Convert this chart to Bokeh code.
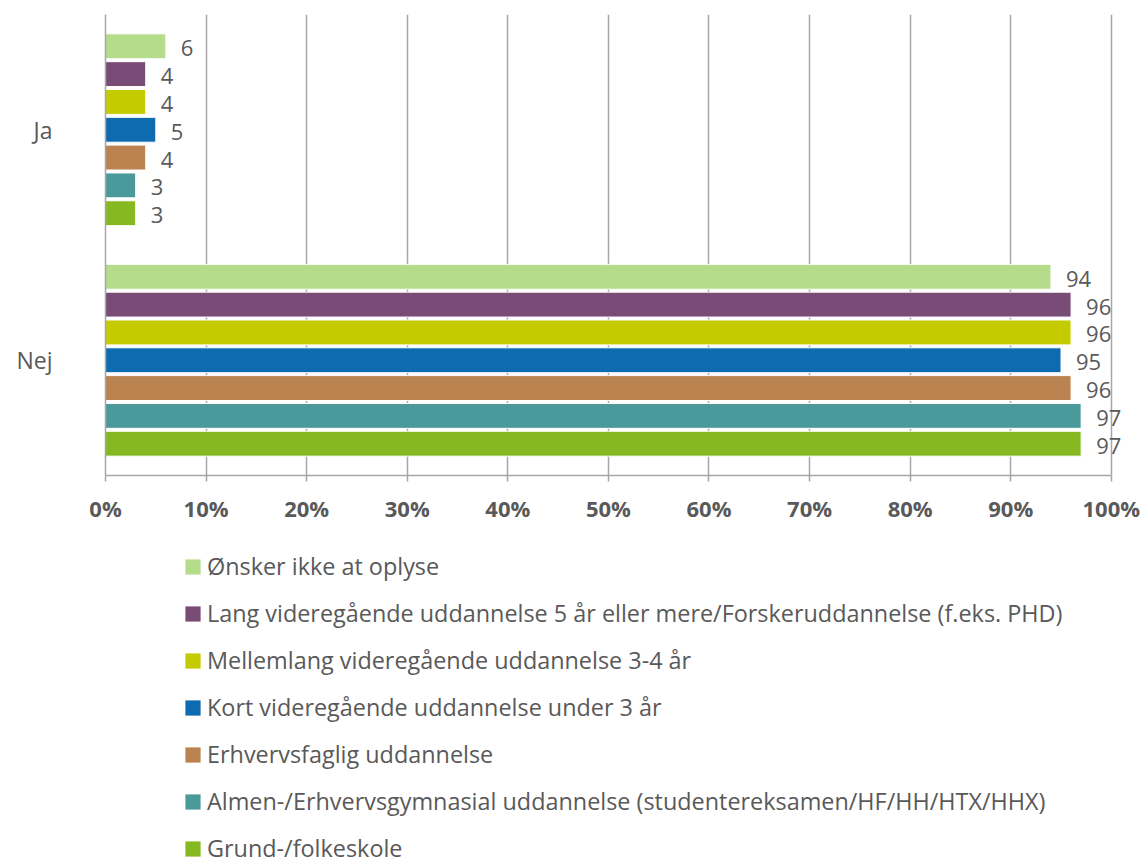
from bokeh.plotting import figure
from bokeh.layouts import column
from bokeh.models import (FactorRange, Range1d, Legend, LegendItem, ColumnDataSource,
                          FixedTicker, PrintfTickFormatter)
from bokeh.transform import dodge
from bokeh.core.properties import value
from bokeh.embed import file_html
from bokeh.resources import INLINE

categories = ["Ja", "Nej"]
series = [
    "Ønsker ikke at oplyse",
    "Lang videregående uddannelse 5 år eller mere/Forskeruddannelse (f.eks. PHD)",
    "Mellemlang videregående uddannelse 3-4 år",
    "Kort videregående uddannelse under 3 år",
    "Erhvervsfaglig uddannelse",
    "Almen-/Erhvervsgymnasial uddannelse (studentereksamen/HF/HH/HTX/HHX)",
    "Grund-/folkeskole",
]
colors = ["#B4DC8A", "#794C78", "#C4CC00", "#0E6BB0", "#BA834F", "#4A999B", "#86B822"]
ja_values = [6, 4, 4, 5, 4, 3, 3]
nej_values = [94, 96, 96, 95, 96, 97, 97]
x_ticks = [0, 10, 20, 30, 40, 50, 60, 70, 80, 90, 100]

FONT = "Open Sans"
GRAY_TXT = "#595959"
GRID = "#A6A6A6"

p = figure(frame_width=1039, frame_height=461,
           y_range=FactorRange(factors=["Nej", "Ja"]),
           x_range=Range1d(0, 103.3),
           output_backend="svg", toolbar_location=None,
           min_border_left=105, min_border_right=0, min_border_top=14,
           min_border_bottom=58)
p.outline_line_color = None
p.background_fill_color = "white"
p.border_fill_color = "white"

pitch = 0.1207
bar_h = 0.108
for i, (name, col) in enumerate(zip(series, colors)):
    off = (3 - i) * pitch
    src = ColumnDataSource(dict(cat=categories, val=[ja_values[i], nej_values[i]],
                                lab=[str(ja_values[i]), str(nej_values[i])]))
    p.hbar(y=dodge("cat", off, range=p.y_range), right="val", left=0, height=bar_h,
           source=src, fill_color=col, line_color="white", line_width=1)
    p.text(x="val", y=dodge("cat", off, range=p.y_range), text="lab", source=src,
           x_offset=15, y_offset=2, text_baseline="middle", text_align="left",
           text_font=value(FONT), text_font_size="22px", text_color=GRAY_TXT)

# axes
xa = p.xaxis[0]
xa.bounds = (0, 100)
xa.ticker = FixedTicker(ticks=x_ticks)
xa.formatter = PrintfTickFormatter(format="%d%%")
xa.axis_line_color = GRID
xa.axis_line_width = 1.5
xa.major_tick_line_color = GRID
xa.major_tick_line_width = 1.5
xa.major_tick_out = 6
xa.major_tick_in = 0
xa.minor_tick_line_color = None
xa.major_label_text_font = FONT
xa.major_label_text_font_size = "22px"
xa.major_label_text_font_style = "bold"
xa.major_label_text_color = GRAY_TXT
xa.major_label_standoff = 11

ya = p.yaxis[0]
ya.axis_line_color = GRID
ya.axis_line_width = 1.5
ya.major_tick_line_color = None
ya.minor_tick_line_color = None
ya.major_label_text_font = FONT
ya.major_label_text_font_size = "23px"
ya.major_label_text_color = GRAY_TXT
ya.major_label_standoff = 47

p.xgrid.grid_line_color = GRID
p.xgrid.grid_line_width = 1.5
p.xgrid.ticker = FixedTicker(ticks=x_ticks)
p.ygrid.grid_line_color = None

# legend figure
lf = figure(width=1144, height=334, output_backend="svg", toolbar_location=None,
            x_range=Range1d(0, 1), y_range=Range1d(0, 1),
            x_axis_location=None, y_axis_location=None,
            min_border=0, min_border_left=0, min_border_right=0,
            min_border_top=0, min_border_bottom=0)
lf.grid.visible = False
lf.outline_line_color = None
items = []
for name, col in zip(series, colors):
    r = lf.hbar(y=[-5], right=[1], left=0, height=0.1, fill_color=col,
                line_alpha=0)
    items.append(LegendItem(label=name, renderers=[r]))

legend = Legend(items=items, location=(78, 3), orientation="vertical",
                glyph_width=19, glyph_height=19, label_standoff=5,
                spacing=15, padding=0, margin=0,
                label_text_font=FONT, label_text_font_size="23.4px",
                label_text_color=GRAY_TXT, border_line_color=None,
                background_fill_alpha=0)
lf.add_layout(legend, "center")

open("out.html", "w").write(file_html(column(p, lf), INLINE))
